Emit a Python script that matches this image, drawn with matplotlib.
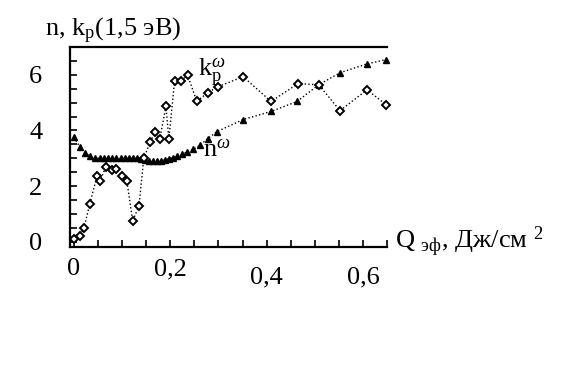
import matplotlib
matplotlib.use("Agg")
import matplotlib.pyplot as plt
import matplotlib.transforms as mtransforms

plt.rcParams['font.family'] = ['Liberation Serif', 'DejaVu Serif']
plt.rcParams['mathtext.fontset'] = 'custom'
plt.rcParams['mathtext.rm'] = 'Liberation Serif'
plt.rcParams['mathtext.it'] = 'Liberation Serif:italic'

# n (треугольники)
n_x = [0.0, 0.012, 0.023, 0.033, 0.044, 0.054, 0.062, 0.071, 0.079, 0.087,
       0.098, 0.106, 0.114, 0.122, 0.131, 0.139, 0.147, 0.156, 0.164, 0.172,
       0.180, 0.189, 0.197, 0.205, 0.214, 0.224, 0.234, 0.247, 0.261, 0.278,
       0.297, 0.351, 0.409, 0.463, 0.508, 0.552, 0.608, 0.647]
n_y = [3.75, 3.42, 3.2, 3.07, 3.0, 3.0, 3.0, 3.0, 3.0, 3.0,
       3.0, 3.0, 3.0, 3.0, 3.0, 2.98, 2.95, 2.92, 2.9, 2.9,
       2.92, 2.95, 2.98, 3.02, 3.07, 3.14, 3.22, 3.32, 3.46, 3.71,
       3.96, 4.39, 4.68, 5.04, 5.64, 6.07, 6.39, 6.54]

# k_p (ромбы)
k_x = [0.0, 0.012, 0.021, 0.033, 0.048, 0.054, 0.066, 0.079, 0.087, 0.100,
       0.110, 0.122, 0.135, 0.145, 0.158, 0.168, 0.178, 0.191, 0.197, 0.209,
       0.222, 0.236, 0.255, 0.278, 0.299, 0.351, 0.409, 0.465, 0.508, 0.552,
       0.608, 0.647]
k_y = [0.1, 0.22, 0.5, 1.36, 2.36, 2.18, 2.68, 2.57, 2.61, 2.36,
       2.18, 0.75, 1.29, 3.0, 3.57, 3.93, 3.68, 4.86, 3.68, 5.79,
       5.79, 5.98, 5.04, 5.36, 5.57, 5.93, 5.04, 5.68, 5.64, 4.71,
       5.46, 4.93]

x_ticks = [0.0, 0.2, 0.4, 0.6]
x_tick_labels = ['0', '0,2', '0,4', '0,6']
y_ticks = [0, 2, 4, 6]
y_tick_labels = ['0', '2', '4', '6']

fig = plt.figure(figsize=(5.81, 3.84), dpi=100)
ax = fig.add_axes([0.1205, 0.357, 0.546, 0.521])

ax.plot(n_x, n_y, linestyle=':', color='black', linewidth=1.0,
        marker='^', markersize=4.5, markerfacecolor='black',
        markeredgecolor='black', clip_on=False)
ax.plot(k_x, k_y, linestyle=':', color='black', linewidth=1.0,
        marker='D', markersize=3.6, markerfacecolor='white',
        markeredgecolor='black', markeredgewidth=1.4, clip_on=False)

ax.set_xlim(-0.008, 0.65)
ax.set_ylim(-0.18, 7.0)

# деления
ax.set_xticks([i * 0.05 for i in range(14)])
ax.set_xticklabels(['' if round(i * 0.05, 2) not in x_ticks else
                    x_tick_labels[x_ticks.index(round(i * 0.05, 2))]
                    for i in range(14)])
ax.set_yticks([i * 0.5 for i in range(14)])
ax.set_yticklabels(['' if i * 0.5 not in y_ticks else
                    y_tick_labels[y_ticks.index(int(i * 0.5))]
                    for i in range(14)])
ax.tick_params(direction='in', length=5, width=1.2, labelsize=19)
ax.tick_params(axis='x', pad=8)
ax.tick_params(axis='y', pad=20)

# 0,4 и 0,6 чуть ниже
for lbl in ax.get_xticklabels():
    if lbl.get_text() in ('0,4', '0,6'):
        lbl.set_transform(lbl.get_transform() +
                          mtransforms.ScaledTranslation(0, -8 / 100, fig.dpi_scale_trans))

ax.spines['right'].set_visible(False)
for s in ('left', 'bottom', 'top'):
    ax.spines[s].set_linewidth(1.6)

fig.text(45 / 581, 1 - 36 / 384, r'n, k$_{\rm p}$(1,5 эВ)', fontsize=19,
         ha='left', va='baseline')
fig.text(395 / 581, 1 - 248 / 384, r'Q $_{\rm эф}$, Дж/см $^{2}$', fontsize=19,
         ha='left', va='baseline')

ax.text(0.257, 5.93, r'k$_{\rm p}^{\omega}$', fontsize=19, ha='left', va='baseline')
ax.text(0.268, 3.07, r'n$^{\omega}$', fontsize=19, ha='left', va='baseline')

fig.savefig('out.png', dpi=100)
